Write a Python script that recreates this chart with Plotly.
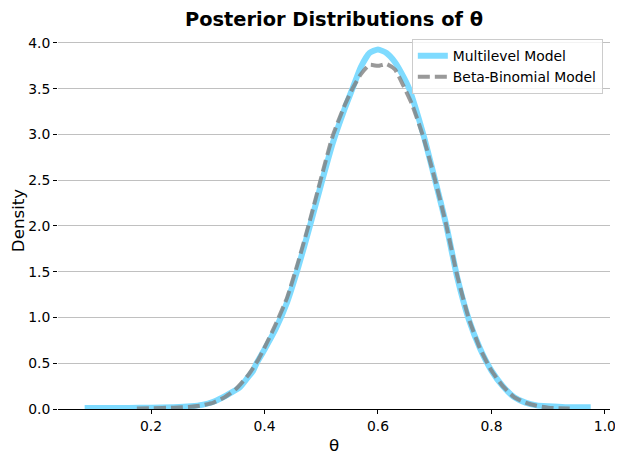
import plotly.graph_objects as go

# posterior density (theta, density)
ml_theta = [0.083, 0.12, 0.16, 0.20, 0.24, 0.27, 0.29, 0.31, 0.333, 0.357, 0.37, 0.38, 0.386,
            0.40, 0.42, 0.44, 0.46, 0.48, 0.50, 0.52, 0.54, 0.555, 0.57, 0.585, 0.60,
            0.615, 0.63, 0.645, 0.655, 0.68, 0.70, 0.72, 0.74, 0.76, 0.78, 0.80, 0.82,
            0.84, 0.86, 0.88, 0.90, 0.93, 0.975]
ml_density = [0.01, 0.01, 0.01, 0.015, 0.02, 0.03, 0.045, 0.08, 0.15, 0.24, 0.34, 0.42, 0.50,
              0.65, 0.88, 1.17, 1.56, 2.00, 2.46, 2.90, 3.26, 3.50, 3.74, 3.89, 3.93,
              3.89, 3.79, 3.63, 3.50, 3.00, 2.52, 2.02, 1.43, 0.98, 0.66, 0.42, 0.25,
              0.13, 0.07, 0.04, 0.03, 0.02, 0.02]

bb_theta = [0.175, 0.20, 0.24, 0.27, 0.29, 0.31, 0.33, 0.35, 0.37, 0.38, 0.39, 0.40, 0.42,
            0.44, 0.46, 0.48, 0.50, 0.52, 0.54, 0.555, 0.57, 0.585, 0.60, 0.615, 0.63,
            0.645, 0.66, 0.68, 0.70, 0.72, 0.74, 0.76, 0.78, 0.80, 0.82, 0.84, 0.86,
            0.88, 0.90, 0.938]
bb_density = [0.005, 0.008, 0.015, 0.025, 0.04, 0.07, 0.13, 0.22, 0.36, 0.45, 0.55, 0.67, 0.93,
              1.22, 1.62, 2.06, 2.53, 2.98, 3.30, 3.50, 3.66, 3.76, 3.75, 3.77, 3.71,
              3.53, 3.33, 2.97, 2.52, 2.02, 1.45, 0.99, 0.66, 0.42, 0.25, 0.13, 0.07,
              0.035, 0.015, 0.005]

x_ticks = [0.2, 0.4, 0.6, 0.8, 1.0]
y_ticks = [0.0, 0.5, 1.0, 1.5, 2.0, 2.5, 3.0, 3.5, 4.0]

fig = go.Figure()

fig.add_trace(go.Scatter(
    x=ml_theta, y=ml_density, mode='lines', name='Multilevel Model',
    line=dict(color='#7FDBFF', width=6, shape='spline', smoothing=0.5)
))

fig.add_trace(go.Scatter(
    x=bb_theta, y=bb_density, mode='lines', name='Beta-Binomial Model',
    line=dict(color='rgba(128,128,128,0.8)', width=4, dash='12px,5px',
              shape='spline', smoothing=0.5)
))

# the page body adds an 8px offset, so the figure is a bit smaller than the window
fig.update_layout(
    width=615, height=455,
    margin=dict(l=50, r=13, t=24, b=54, autoexpand=False),
    plot_bgcolor='white', paper_bgcolor='white',
    font=dict(family='DejaVu Sans', size=13.9, color='black'),
    title=dict(text='<b>Posterior Distributions of θ</b>', x=0.5, xref='paper',
               xanchor='center', y=1 - 11 / 455, yanchor='middle',
               font=dict(size=19.4)),
    legend=dict(x=0.987, xanchor='right', y=0.981, yanchor='top',
                bgcolor='rgba(255,255,255,0.8)', bordercolor='#cccccc', borderwidth=1,
                font=dict(size=13.9), itemwidth=30, tracegroupgap=0),
)

fig.update_xaxes(
    range=[0.036, 1.009], tickvals=x_ticks, ticktext=[f'{v:.1f}' for v in x_ticks],
    showgrid=False, zeroline=False, showline=True, linecolor='black', linewidth=1,
    ticks='outside', ticklen=4, tickcolor='black', automargin=False,
    title=dict(text='θ', font=dict(size=16.7), standoff=6)
)
fig.update_yaxes(
    range=[0, 4.12], tickvals=y_ticks, ticktext=[f'{v:.1f}' for v in y_ticks],
    showgrid=True, gridcolor='#c0c0c0', gridwidth=1, zeroline=False, showline=False,
    ticks='outside', ticklen=4, tickcolor='black', automargin=False,
    title=dict(text='Density', font=dict(size=16.7), standoff=8)
)

fig.write_html("out.html")
